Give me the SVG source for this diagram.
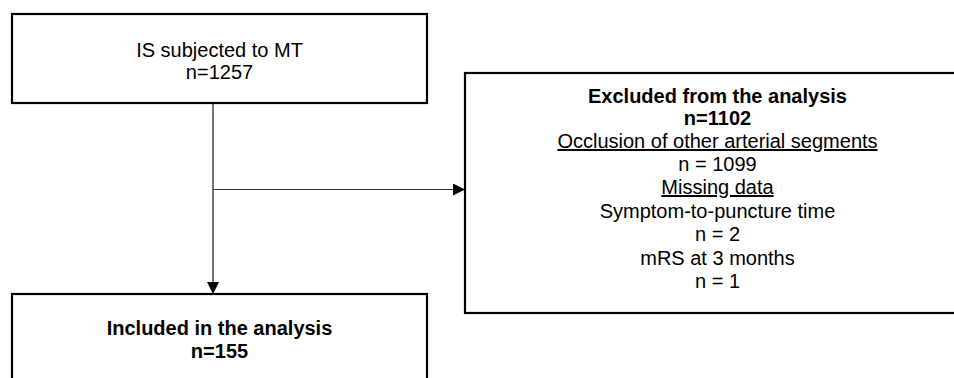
<svg xmlns="http://www.w3.org/2000/svg" width="954" height="378" viewBox="0 0 954 378">
<style>
.box{fill:#fff;stroke:#000;stroke-width:2.2}
text{font-family:"Liberation Sans",Arial,sans-serif;font-size:20px;fill:#000;text-anchor:middle}
.b{font-weight:bold}
.u{text-decoration:underline}
.conn{fill:none}
</style>
<defs>
<marker id="ah" viewBox="0 0 12 12" refX="12" refY="6" markerWidth="12" markerHeight="12" markerUnits="userSpaceOnUse" orient="auto">
<path d="M0,0 L12,6 L0,12 Z" fill="#000"/>
</marker>
</defs>
<g id="connectors" class="conn">
<line x1="213" y1="104" x2="213" y2="294" stroke="#666" stroke-width="1.8" marker-end="url(#ah)"/>
<line x1="213" y1="189.5" x2="465" y2="189.5" stroke="#333" stroke-width="1.2" marker-end="url(#ah)"/>
</g>
<g id="node-top">
<rect class="box" x="12" y="14" width="415" height="89"/>
<text x="219.5" y="57">IS subjected to MT</text>
<text x="219.5" y="79">n=1257</text>
</g>
<g id="node-excluded">
<rect class="box" x="465" y="73" width="520" height="240"/>
<text class="b" x="717.5" y="103">Excluded from the analysis</text>
<text class="b" x="717.5" y="125">n=1102</text>
<text class="u" x="717.5" y="148">Occlusion of other arterial segments</text>
<text x="717.5" y="171">n = 1099</text>
<text class="u" x="717.5" y="194">Missing data</text>
<text x="717.5" y="218">Symptom-to-puncture time</text>
<text x="717.5" y="241">n = 2</text>
<text x="717.5" y="265">mRS at 3 months</text>
<text x="717.5" y="288">n = 1</text>
</g>
<g id="node-included">
<rect class="box" x="12" y="294" width="415" height="100"/>
<text class="b" x="219.5" y="335">Included in the analysis</text>
<text class="b" x="219.5" y="358">n=155</text>
</g>
</svg>
